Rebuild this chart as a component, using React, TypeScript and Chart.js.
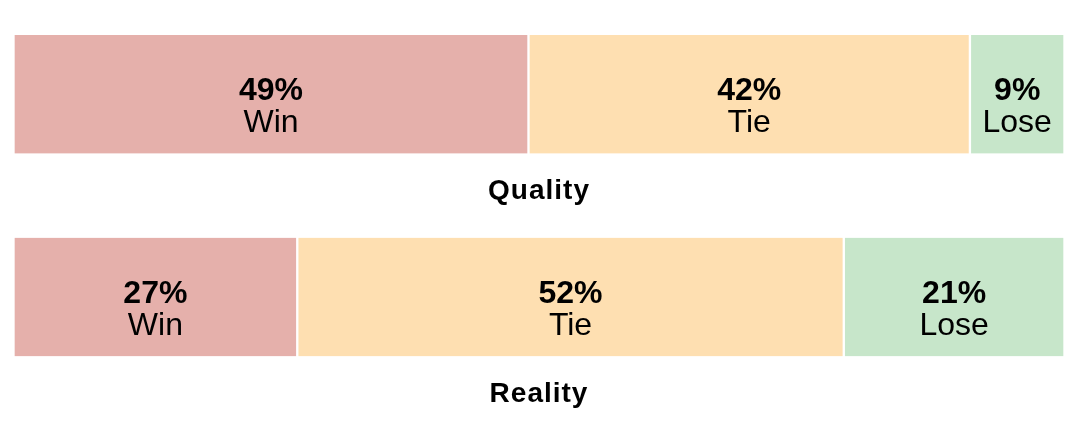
import React, { useEffect, useRef } from "react";
import { Chart, registerables } from "chart.js";

Chart.register(...registerables);

const categories = ["Quality", "Reality"];
const seriesNames = ["Win", "Tie", "Lose"];
const winValues = [49, 27];
const tieValues = [42, 52];
const loseValues = [9, 21];
const seriesColors = ["#E5B0AB", "#FEDFB1", "#C7E6CA"];

const FONT = '"Liberation Sans", Arial, Helvetica, sans-serif';

const labelPlugin = {
  id: "segmentLabels",
  afterDatasetsDraw(chart: any) {
    const ctx = chart.ctx;
    ctx.save();
    ctx.fillStyle = "#000";
    ctx.textAlign = "center";
    ctx.textBaseline = "alphabetic";
    chart.data.datasets.forEach((ds: any, di: number) => {
      const meta = chart.getDatasetMeta(di);
      meta.data.forEach((el: any, i: number) => {
        const cx = (el.x + el.base) / 2;
        const cy = el.y;
        ctx.font = `bold 32px ${FONT}`;
        ctx.fillText(`${ds.data[i]}%`, cx, cy + 6);
        ctx.font = `32px ${FONT}`;
        ctx.fillText(ds.label, cx, cy + 38);
      });
    });
    const yScale = chart.scales.y;
    const area = chart.chartArea;
    const midX = (area.left + area.right) / 2;
    ctx.font = `bold 28px ${FONT}`;
    try {
      (ctx as any).letterSpacing = "1px";
    } catch (e) {}
    chart.data.labels.forEach((lab: string, i: number) => {
      const y = yScale.getPixelForValue(i);
      ctx.fillText(lab, midX, y + 105);
    });
    ctx.restore();
  },
};

export default function App() {
  const ref = useRef<HTMLCanvasElement | null>(null);
  useEffect(() => {
    document.body.style.margin = "0";
    const canvas = ref.current;
    if (!canvas) return;
    const seriesValues = [winValues, tieValues, loseValues];
    const chart = new Chart(canvas, {
      type: "bar",
      data: {
        labels: categories,
        datasets: seriesNames.map((name, k) => ({
          label: name,
          data: seriesValues[k],
          backgroundColor: seriesColors[k],
          borderColor: "#ffffff",
          borderWidth: { left: 1.5, right: 1.5, top: 0, bottom: 0 },
          borderSkipped: false,
          barThickness: 118.5,
          clip: false as any,
        })),
      },
      options: {
        indexAxis: "y",
        responsive: false,
        animation: false,
        maintainAspectRatio: false,
        layout: { padding: { left: 13.5, right: 14.5, top: 94.25, bottom: 126 } },
        scales: {
          x: { stacked: true, min: 0, max: 100, display: false },
          y: { stacked: true, display: false, offset: false },
        },
        plugins: {
          legend: { display: false },
          tooltip: { enabled: false },
          title: { display: false },
        },
      },
      plugins: [labelPlugin],
    });
    return () => chart.destroy();
  }, []);
  return (
    <div style={{ position: "absolute", left: 0, top: 0, width: 1079, height: 423, background: "#fff" }}>
      <canvas ref={ref} width={1079} height={423} style={{ width: 1079, height: 423, display: "block" }} />
    </div>
  );
}
